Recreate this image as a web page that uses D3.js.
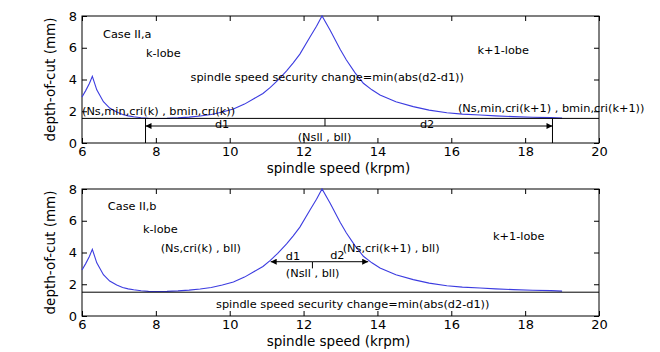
<!DOCTYPE html>
<html>
<head>
<meta charset="utf-8">
<script src="https://cdn.jsdelivr.net/npm/d3@7"></script>
<style>
  body { margin: 0; background: #fff; }
  text { font-family: "DejaVu Sans", sans-serif; fill: #000; }
</style>
</head>
<body>
<svg id="chart" width="660" height="352"></svg>
<script>
// stability lobe (same curve in both panels)
var speed = [6.0, 6.1, 6.2, 6.28, 6.4, 6.58, 6.75, 6.94, 7.1, 7.25, 7.4, 7.6, 7.8, 8.0, 8.3, 8.6, 8.9,
    9.2, 9.5, 9.8, 10.1, 10.4, 10.64, 10.9, 11.1, 11.3, 11.54, 11.72, 11.9, 12.17, 12.35, 12.5, 12.72,
    12.99, 13.16, 13.4, 13.62, 13.85, 14.07, 14.5, 14.97, 15.4, 15.88, 16.3, 16.78, 17.2, 17.68, 18.2,
    18.7, 19.0];
var depth = [2.9, 3.3, 3.75, 4.2, 3.35, 2.6, 2.2, 1.95, 1.8, 1.71, 1.65, 1.59, 1.55, 1.54, 1.55, 1.58, 1.63,
    1.7, 1.8, 1.95, 2.14, 2.45, 2.77, 3.12, 3.5, 3.95, 4.55, 5.05, 5.6, 6.66, 7.35, 8.0, 7.1,
    5.9, 5.23, 4.4, 3.76, 3.35, 3.02, 2.6, 2.29, 2.07, 1.91, 1.82, 1.76, 1.71, 1.66, 1.62,
    1.6, 1.57];

var xTicks = [6, 8, 10, 12, 14, 16, 18, 20];
var yTicks = [0, 2, 4, 6, 8];

// panel a annotations
var levelA = 1.55, arrowA = 1.07;
var centerA = 12.58, leftA = 7.72, rightA = 18.74;
var textA = [
    {t: "Case II,a", x: 6.57, y: 6.85},
    {t: "k-lobe", x: 7.73, y: 5.65},
    {t: "spindle speed security change=min(abs(d2-d1))", x: 8.94, y: 4.18},
    {t: "k+1-lobe", x: 16.71, y: 5.86},
    {t: "(Ns,min,cri(k) , bmin,cri(k))", x: 6.0, y: 2.03},
    {t: "(Ns,min,cri(k+1) , bmin,cri(k+1))", x: 16.18, y: 2.22},
    {t: "d1", x: 9.6, y: 1.2},
    {t: "d2", x: 15.15, y: 1.2},
    {t: "(Nsll , bll)", x: 11.84, y: 0.4}
];

// panel b annotations
var levelB = 1.5, arrowB = 3.42, tickEndB = 3.0;
var centerB = 12.24, leftB = 11.11, rightB = 13.75;
var textB = [
    {t: "Case II,b", x: 6.7, y: 6.93},
    {t: "k-lobe", x: 7.65, y: 5.46},
    {t: "(Ns,cri(k) , bll)", x: 8.13, y: 4.3},
    {t: "d1", x: 11.52, y: 3.78},
    {t: "d2", x: 12.72, y: 3.84},
    {t: "(Ns,cri(k+1) , bll)", x: 13.06, y: 4.3},
    {t: "k+1-lobe", x: 17.13, y: 5.04},
    {t: "(Nsll , bll)", x: 11.52, y: 2.69},
    {t: "spindle speed security change=min(abs(d2-d1))", x: 9.63, y: 0.77}
];

var curve = speed.map(function (s, i) { return {x: s, y: depth[i]}; });

var svg = d3.select("#chart");
var left = 82, right = 599;

svg.append("defs").append("marker")
    .attr("id", "arrow")
    .attr("viewBox", "0 0 10 10")
    .attr("refX", 10).attr("refY", 5)
    .attr("markerWidth", 9).attr("markerHeight", 6)
    .attr("markerUnits", "userSpaceOnUse")
    .attr("orient", "auto")
    .append("path").attr("d", "M0,0L10,5L0,10Z").attr("fill", "#000");

function drawPanel(top, bottom, level, annotate, texts) {
    var x = d3.scaleLinear().domain([6, 20]).range([left, right]);
    var y = d3.scaleLinear().domain([0, 8]).range([bottom, top]);
    var g = svg.append("g");

    var xAxis = g.append("g").attr("transform", "translate(0," + bottom + ")")
        .call(d3.axisBottom(x).tickValues(xTicks).tickSize(-5).tickPadding(4));
    var yAxis = g.append("g").attr("transform", "translate(" + left + ",0)")
        .call(d3.axisLeft(y).tickValues(yTicks).tickSize(-5).tickPadding(5));
    g.append("g").attr("transform", "translate(0," + top + ")")
        .call(d3.axisTop(x).tickValues(xTicks).tickSize(-5).tickFormat(""));
    g.append("g").attr("transform", "translate(" + right + ",0)")
        .call(d3.axisRight(y).tickValues(yTicks).tickSize(-5).tickFormat(""));
    g.selectAll(".domain").remove();
    g.selectAll(".tick line").attr("stroke", "#000");
    xAxis.selectAll("text").style("font-size", "13px").style("font-family", "DejaVu Sans");
    yAxis.selectAll("text").style("font-size", "13px").style("font-family", "DejaVu Sans");

    g.append("rect")
        .attr("x", left).attr("y", top)
        .attr("width", right - left).attr("height", bottom - top)
        .attr("fill", "none").attr("stroke", "#000");

    g.append("path")
        .datum(curve)
        .attr("d", d3.line().x(function (d) { return x(d.x); }).y(function (d) { return y(d.y); }))
        .attr("fill", "none")
        .attr("stroke", "#3c3ce0")
        .attr("stroke-width", 1.1);

    g.append("line")
        .attr("x1", x(6)).attr("x2", x(20))
        .attr("y1", y(level)).attr("y2", y(level))
        .attr("stroke", "#000");

    annotate(g, x, y);

    g.selectAll(".note")
        .data(texts)
        .enter()
        .append("text")
        .attr("class", "note")
        .attr("x", function (d) { return x(d.x); })
        .attr("y", function (d) { return y(d.y); })
        .attr("dy", "0.35em")
        .style("font-size", "11.3px")
        .text(function (d) { return d.t; });

    g.append("text")
        .attr("x", (left + right) / 2 - 2)
        .attr("y", bottom + 25)
        .attr("dy", "0.35em")
        .attr("text-anchor", "middle")
        .style("font-size", "13.5px")
        .text("spindle speed (krpm)");

    g.append("text")
        .attr("transform", "translate(50," + ((top + bottom) / 2) + ") rotate(-90)")
        .attr("dy", "0.35em")
        .attr("text-anchor", "middle")
        .style("font-size", "13.5px")
        .text("depth-of-cut (mm)");
}

function line(g, x1, y1, x2, y2, arrow) {
    var l = g.append("line")
        .attr("x1", x1).attr("y1", y1).attr("x2", x2).attr("y2", y2)
        .attr("stroke", "#000");
    if (arrow) l.attr("marker-end", "url(#arrow)");
}

drawPanel(16, 143, levelA, function (g, x, y) {
    line(g, x(leftA), y(0), x(leftA), y(levelA));
    line(g, x(rightA), y(0), x(rightA), y(levelA));
    line(g, x(centerA), y(levelA), x(centerA), y(arrowA));
    line(g, x(centerA), y(arrowA), x(leftA), y(arrowA), true);
    line(g, x(centerA), y(arrowA), x(rightA), y(arrowA), true);
}, textA);

drawPanel(189, 316, levelB, function (g, x, y) {
    line(g, x(centerB), y(arrowB), x(centerB), y(tickEndB));
    line(g, x(centerB), y(arrowB), x(leftB), y(arrowB), true);
    line(g, x(centerB), y(arrowB), x(rightB), y(arrowB), true);
}, textB);
</script>
</body>
</html>
